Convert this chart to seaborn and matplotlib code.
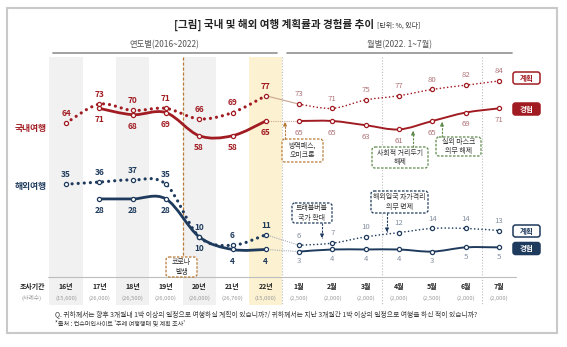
import numpy as np
import pandas as pd
import matplotlib
matplotlib.use("Agg")
import matplotlib.pyplot as plt
import seaborn as sns
from matplotlib.path import Path
from matplotlib.patches import PathPatch, FancyBboxPatch, Rectangle
from matplotlib.transforms import Affine2D, blended_transform_factory

# ---------------------------------------------------------------- data
periods = ["16년", "17년", "18년", "19년", "20년", "21년", "22년",
           "1월", "2월", "3월", "4월", "5월", "6월", "7월"]
sample_sizes = ["(15,600)", "(26,000)", "(26,500)", "(26,000)", "(26,000)",
                "(26,769)", "(15,000)", "(2,500)", "(2,000)", "(2,000)",
                "(2,000)", "(2,500)", "(2,000)", "(2,000)"]

dom_plan_year = [64, 73, 70, 71, 66, 69, 77]
dom_exp_year = [np.nan, 71, 68, 69, 58, 58, 65]
ovs_plan_year = [35, 36, 37, 35, 10, 6, 11]
ovs_exp_year = [np.nan, 28, 28, 28, 10, 4, 4]

dom_plan_month = [73, 71, 75, 77, 80, 82, 84]
dom_exp_month = [65, 65, 63, 61, 65, 69, 71]
ovs_plan_month = [6, 7, 10, 12, 14, 14, 13]
ovs_exp_month = [3, 4, 4, 4, 3, 5, 5]

year_idx = list(range(0, 7))
month_idx = list(range(7, 14))

# ---------------------------------------------------------------- style
RED = "#A11C22"
RED_L = "#B07478"
NAVY = "#1E3A5C"
NAVY_L = "#8590A0"
TAN = "#C9A48E"
GREYLINE = "#A7ADB5"

sns.set_theme(style="white")
plt.rcParams["font.family"] = ["Noto Sans CJK KR", "DejaVu Sans"]
plt.rcParams["axes.unicode_minus"] = False

W, H = 567, 347
fig = plt.figure(figsize=(W / 100, H / 100), dpi=100)
ax = fig.add_axes([0, 0, 1, 1])
ax.axis("off")
XLIM = (-1.982, 15.045)
YLIM = (-42.3, 122.45)

# pixel (top-left origin) transform for the frame furniture
T = Affine2D().scale(1, -1).translate(0, H)
colT = blended_transform_factory(ax.transData, T)


def curve(xs, ys, color, lw, ls, z=4):
    pts = np.array([(x, y) for x, y in zip(xs, ys) if not np.isnan(y)], float)
    verts = [pts[0]]
    codes = [Path.MOVETO]
    n = len(pts)
    for i in range(n - 1):
        p0 = pts[max(i - 1, 0)]
        p1 = pts[i]
        p2 = pts[i + 1]
        p3 = pts[min(i + 2, n - 1)]
        verts += [p1 + (p2 - p0) / 6, p2 - (p3 - p1) / 6, p2]
        codes += [Path.CURVE4] * 3
    ax.add_patch(PathPatch(Path(verts, codes), fill=False, edgecolor=color,
                           lw=lw, linestyle=ls, capstyle="round",
                           joinstyle="round", zorder=z))


def markers(xs, ys, color, s=9, lw=0.9):
    d = pd.DataFrame({"x": xs, "y": ys}).dropna()
    sns.scatterplot(data=d, x="x", y="y", ax=ax, s=s, color="white",
                    edgecolor=color, linewidth=lw, zorder=6, legend=False)


def labels(xs, ys, color, dy, weight="bold", size=6):
    for x, y in zip(xs, ys):
        if np.isnan(y):
            continue
        ax.annotate(f"{int(y)}", (x, y), xytext=(0, dy), textcoords="offset points",
                    ha="center", va="center", fontsize=size, color=color,
                    fontweight=weight, zorder=7)


# ---------------------------------------------------------------- background
for i, c in [(0, "#F1F1F1"), (2, "#F1F1F1"), (4, "#F1F1F1"), (6, "#FCF2D2")]:
    ax.add_patch(Rectangle((i - 0.5, 57), 1, 248, transform=colT, fc=c, ec="none", zorder=0))

for xv in (6.5, 9.5, 12.5):
    ax.plot([xv, xv], [57, 305], transform=colT, color="#BDBDBD", lw=0.8,
            ls=(0, (1, 1.6)), zorder=1)
ax.plot([3.5, 3.5], [57, 257], transform=colT, color="#B87A35", lw=0.9,
        ls=(0, (2.5, 1.5)), zorder=1)

# frame, title and section headers
ax.add_patch(Rectangle((7, 8), 550, 325, transform=T, fill=False, ec="#C9C9C9", lw=1.5, zorder=0))
ax.text(374, 25, "[그림] 국내 및 해외 여행 계획률과 경험률 추이", transform=T,
        ha="right", va="center", fontsize=7.6, fontweight="bold", color="#222222")
ax.text(377, 25.5, "[단위: %, 있다]", transform=T, ha="left", va="center",
        fontsize=5, color="#333333")

ax.text(2.95, 45, "연도별(2016~2022)", transform=colT, ha="center", va="center",
        fontsize=6, color="#555555")
ax.plot([-0.39, 6.34], [53, 53], transform=colT, color="#9A9A9A", lw=1.3)
ax.text(10.0, 45, "월별(2022. 1~7월)", transform=colT, ha="center", va="center",
        fontsize=6, color="#555555")
ax.plot([6.64, 13.4], [53, 53], transform=colT, color="#9A9A9A", lw=1.3)

# ---------------------------------------------------------------- series
# yearly (2016-2022)
curve(year_idx, dom_plan_year, RED, 2.3, (0, (0.01, 1.9)))
curve(year_idx, dom_exp_year, RED, 2.0, "-")
curve(year_idx, ovs_plan_year, NAVY, 2.3, (0, (0.01, 1.9)))
curve(year_idx, ovs_exp_year, NAVY, 2.0, "-")

# monthly (2022)
curve(month_idx, dom_plan_month, RED, 1.2, (0, (0.01, 2.2)))
curve(month_idx, dom_exp_month, RED, 1.4, "-")
curve(month_idx, ovs_plan_month, NAVY, 1.2, (0, (0.01, 2.2)))
curve(month_idx, ovs_exp_month, NAVY, 1.4, "-")

# bridge from the 2022 annual figure to January
ax.plot([6, 7], [dom_plan_year[-1], dom_plan_month[0]], color=TAN, lw=0.8, zorder=3)
ax.plot([6, 7], [dom_exp_year[-1], dom_exp_month[0]], color=TAN, lw=0.8, ls=(0, (1, 1)), zorder=3)
ax.plot([6, 7], [ovs_plan_year[-1], ovs_plan_month[0]], color=GREYLINE, lw=0.8, ls=(0, (1, 1)), zorder=3)
ax.plot([6, 7], [ovs_exp_year[-1], ovs_exp_month[0]], color=GREYLINE, lw=0.8, ls=(0, (1, 1)), zorder=3)

for xs, ys, c in [(year_idx, dom_plan_year, RED), (year_idx, dom_exp_year, RED),
                  (year_idx, ovs_plan_year, NAVY), (year_idx, ovs_exp_year, NAVY),
                  (month_idx, dom_plan_month, RED), (month_idx, dom_exp_month, RED),
                  (month_idx, ovs_plan_month, NAVY), (month_idx, ovs_exp_month, NAVY)]:
    markers(xs, ys, c)

labels(year_idx, dom_plan_year, RED, 7)
labels(year_idx, dom_exp_year, RED, -8.3)
labels(year_idx, ovs_plan_year, NAVY, 7)
labels(year_idx, ovs_exp_year, NAVY, -8.3)
labels(month_idx, dom_plan_month, RED_L, 7, "normal", 5.6)
labels(month_idx, dom_exp_month, RED_L, -8.3, "normal", 5.6)
labels(month_idx, ovs_plan_month, NAVY_L, 7, "normal", 5.6)
labels(month_idx, ovs_exp_month, NAVY_L, -7, "normal", 5.6)

ax.text(31, 128, "국내여행", transform=T, ha="center", va="center",
        fontsize=6.3, fontweight="bold", color=RED)
ax.text(31, 187, "해외여행", transform=T, ha="center", va="center",
        fontsize=6.3, fontweight="bold", color=NAVY)


# ---------------------------------------------------------------- tags
def tag(cx, cy, text, color, filled):
    w, h = 27, 12
    ax.add_patch(FancyBboxPatch((cx - w / 2, cy - h / 2), w, h,
                                boxstyle="round,pad=0,rounding_size=2.5", transform=T,
                                fc=color if filled else "white", ec=color, lw=1.1, zorder=8))
    ax.text(cx, cy, text, transform=T, ha="center", va="center", fontsize=5.4,
            fontweight="bold", color="white" if filled else color, zorder=9)


tag(526.5, 78, "계획", RED, False)
tag(526.5, 109, "경험", RED, True)
tag(526.5, 231, "계획", NAVY, False)
tag(526.5, 248.5, "경험", NAVY, True)


# ---------------------------------------------------------------- event notes
def note(x0, y0, x1, y1, text, color):
    ax.add_patch(FancyBboxPatch((x0, y0), x1 - x0, y1 - y0,
                                boxstyle="round,pad=0,rounding_size=3", transform=T,
                                fc="white", ec=color, lw=0.9, ls=(0, (2, 1.2)), zorder=8))
    ax.text((x0 + x1) / 2, (y0 + y1) / 2, text, transform=T, ha="center",
            va="center", fontsize=5.0, color="#333333", linespacing=1.2, zorder=9)


def pointer(x, y_from, y_to, color):
    ax.plot([x, x], [y_from, y_to], transform=T, color=color, lw=0.8,
            ls=(0, (2, 1.2)), zorder=8)
    step = 3.5 if y_to < y_from else -3.5
    ax.annotate("", xy=(x, y_to), xytext=(x, y_to + step), xycoords=T, textcoords=T,
                arrowprops=dict(arrowstyle="-|>", color=color, lw=0.8,
                                mutation_scale=5, shrinkA=0, shrinkB=0), zorder=8)


ORANGE = "#B87A35"
GREEN = "#5E8A4C"
note(166, 257, 197, 277, "코로나\n발생", ORANGE)
note(282, 139, 323, 162, "방역패스,\n오미크론", ORANGE)
pointer(285, 139, 122, ORANGE)
note(372, 147, 428, 168, "사회적 거리두기\n해제", GREEN)
pointer(413, 147, 131, GREEN)
note(436, 137, 481, 156, "실외 마스크\n의무 해제", GREEN)
pointer(442, 137, 122, GREEN)
note(292, 203, 332, 223, "트래블버블\n국가 확대", NAVY)
pointer(322, 223, 238, NAVY)
note(371, 191, 428, 213, "해외입국 자가격리\n의무 면제", NAVY)
pointer(387, 213, 232, NAVY)

# ---------------------------------------------------------------- table
ax.plot([-0.54, 13.5], [277, 277], transform=colT, color="#BDBDBD", lw=0.8, zorder=2)
ax.text(32, 286, "조사기간", transform=T, ha="center", va="center",
        fontsize=5, fontweight="bold", color="#222222")
ax.text(32, 298, "(사례수)", transform=T, ha="center", va="center",
        fontsize=4.2, color="#9A9A9A")
for i, (p, n) in enumerate(zip(periods, sample_sizes)):
    ax.text(i, 286, p, transform=colT, ha="center", va="center", fontsize=5,
            fontweight="bold", color="#222222")
    ax.text(i, 298, n, transform=colT, ha="center", va="center", fontsize=4.2,
            color="#9A9A9A")

ax.text(55, 314, "Q. 귀하께서는 향후 3개월내 1박 이상의 일정으로 여행하실 계획이 있습니까?/ "
                 "귀하께서는 지난 3개월간 1박 이상의 일정으로 여행을 하신 적이 있습니까?",
        transform=T, ha="left", va="center", fontsize=4.9, color="#333333")
ax.text(55, 323.5, "*출처 : 컨슈머인사이트 '주례 여행행태 및 계획 조사'", transform=T,
        ha="left", va="center", fontsize=4.4, color="#333333")

ax.set_xlim(*XLIM)
ax.set_ylim(*YLIM)
fig.savefig("out.png", dpi=100)
